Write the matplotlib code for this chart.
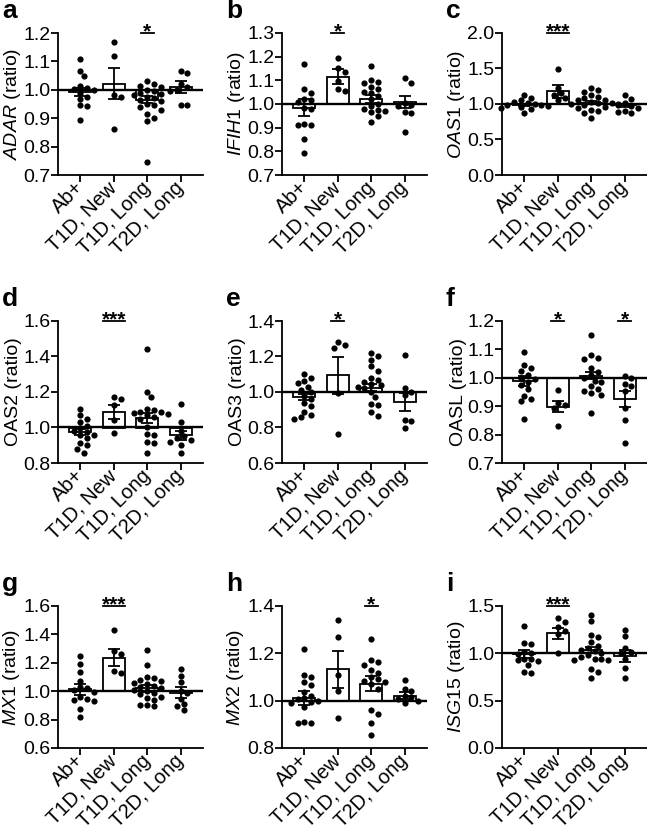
import numpy as np
import matplotlib

matplotlib.use("Agg")
import matplotlib.pyplot as plt
import matplotlib.transforms as mtransforms

plt.rcParams.update({
    "font.family": ["Liberation Sans", "DejaVu Sans"],
    "mathtext.fontset": "custom",
    "mathtext.rm": "Liberation Sans",
    "mathtext.it": "Liberation Sans:italic",
})

GROUPS = ["Ab+", "T1D, New", "T1D, Long", "T2D, Long"]

# ---- values (ratio) ----
adar_points = [
    [1.107, 1.066, 1.047, 1.012, 1.006, 1.003, 1.0, 0.99, 0.975, 0.968, 0.947, 0.943, 0.892],
    [1.167, 1.119, 0.98, 0.975, 0.863],
    [1.03, 1.02, 1.015, 1.01, 1.0, 0.995, 0.99, 0.985, 0.98, 0.975, 0.97, 0.965, 0.96, 0.95,
     0.945, 0.94, 0.93, 0.915, 0.9, 0.89, 0.747],
    [1.065, 1.06, 1.02, 1.01, 1.0, 0.995, 0.945, 0.945],
]
adar_mean = [0.993, 1.022, 0.965, 1.01]
adar_sem = [0.015, 0.056, 0.013, 0.02]

ifih1_points = [
    [1.167, 1.062, 1.048, 1.02, 1.015, 1.01, 0.985, 0.98, 0.915, 0.912, 0.91, 0.85, 0.792],
    [1.195, 1.15, 1.135, 1.097, 1.065, 1.055],
    [1.162, 1.1, 1.095, 1.09, 1.07, 1.065, 1.05, 1.045, 1.035, 1.02, 1.0, 0.99, 0.98, 0.975,
     0.97, 0.965, 0.95, 0.925],
    [1.11, 1.09, 1.005, 0.995, 0.99, 0.965, 0.96, 0.88],
]
ifih1_mean = [0.985, 1.115, 1.022, 1.008]
ifih1_sem = [0.035, 0.031, 0.018, 0.027]

oas1_points = [
    [1.12, 1.08, 1.05, 1.03, 1.01, 1.0, 0.99, 0.98, 0.97, 0.96, 0.95, 0.93, 0.87],
    [1.49, 1.22, 1.15, 1.12, 1.08, 1.05],
    [1.22, 1.2, 1.17, 1.12, 1.1, 1.08, 1.06, 1.05, 1.03, 1.02, 1.01, 1.0, 0.99, 0.98, 0.96,
     0.95, 0.92, 0.9, 0.88, 0.8],
    [1.12, 1.07, 1.02, 1.0, 0.97, 0.95, 0.9, 0.89, 0.88],
]
oas1_mean = [0.99, 1.18, 1.02, 0.98]
oas1_sem = [0.016, 0.09, 0.025, 0.025]

oas2_points = [
    [1.105, 1.07, 1.05, 1.03, 1.01, 0.995, 0.98, 0.975, 0.96, 0.955, 0.94, 0.91, 0.9, 0.88, 0.855],
    [1.17, 1.16, 1.125, 1.04, 0.97],
    [1.44, 1.2, 1.17, 1.105, 1.1, 1.09, 1.085, 1.08, 1.075, 1.07, 1.06, 1.05, 1.0, 0.965,
     0.96, 0.92, 0.915, 0.855],
    [1.13, 1.03, 0.98, 0.95, 0.94, 0.93, 0.92, 0.9, 0.855],
]
oas2_mean = [0.976, 1.088, 1.054, 0.957]
oas2_sem = [0.018, 0.041, 0.03, 0.025]

oas3_points = [
    [1.1, 1.08, 1.06, 1.05, 1.03, 1.01, 1.0, 0.98, 0.96, 0.94, 0.92, 0.89, 0.87, 0.86, 0.85],
    [1.28, 1.265, 1.25, 0.995, 0.765],
    [1.22, 1.2, 1.18, 1.145, 1.12, 1.08, 1.07, 1.055, 1.045, 1.04, 1.03, 1.02, 1.0, 0.97,
     0.93, 0.925, 0.885, 0.865],
    [1.21, 1.02, 1.0, 0.985, 0.84, 0.835, 0.795],
]
oas3_mean = [0.972, 1.093, 1.024, 0.944]
oas3_sem = [0.018, 0.102, 0.021, 0.052]

oasl_points = [
    [1.09, 1.045, 1.035, 1.025, 1.01, 1.0, 0.995, 0.985, 0.975, 0.96, 0.935, 0.925, 0.918, 0.855],
    [0.957, 0.913, 0.905, 0.895, 0.83],
    [1.152, 1.08, 1.07, 1.065, 1.035, 1.02, 1.01, 1.0, 0.99, 0.985, 0.97, 0.96, 0.955, 0.945,
     0.94, 0.875],
    [1.005, 1.0, 0.978, 0.97, 0.955, 0.895, 0.85, 0.772],
]
oasl_mean = [0.988, 0.898, 1.008, 0.926]
oasl_sem = [0.017, 0.019, 0.013, 0.028]

mx1_points = [
    [1.25, 1.195, 1.135, 1.075, 1.03, 1.02, 1.01, 0.995, 0.96, 0.945, 0.94, 0.93, 0.875, 0.815],
    [1.43, 1.28, 1.26, 1.14, 1.13],
    [1.29, 1.185, 1.1, 1.09, 1.08, 1.07, 1.06, 1.05, 1.04, 1.03, 1.02, 1.01, 1.0, 0.99, 0.98,
     0.96, 0.95, 0.94, 0.9, 0.9, 0.895],
    [1.158, 1.11, 1.065, 1.0, 0.99, 0.945, 0.91, 0.895, 0.865],
]
mx1_mean = [1.012, 1.234, 1.021, 0.99]
mx1_sem = [0.04, 0.06, 0.025, 0.04]

mx2_points = [
    [1.22, 1.11, 1.1, 1.08, 1.065, 1.035, 1.02, 1.01, 1.005, 1.0, 0.995, 0.99, 0.975, 0.91,
     0.905, 0.905],
    [1.34, 1.27, 1.11, 1.04, 0.925],
    [1.26, 1.17, 1.165, 1.15, 1.13, 1.115, 1.1, 1.09, 1.085, 1.08, 1.07, 1.05, 0.96, 0.945,
     0.905, 0.855],
    [1.088, 1.05, 1.04, 1.02, 1.015, 1.005, 1.0, 0.99],
]
mx2_mean = [1.01, 1.132, 1.071, 1.021]
mx2_sem = [0.03, 0.078, 0.032, 0.014]

isg15_points = [
    [1.285, 1.105, 1.1, 1.01, 1.0, 0.995, 0.94, 0.935, 0.93, 0.92, 0.88, 0.8, 0.79],
    [1.37, 1.335, 1.275, 1.24, 1.205, 1.005],
    [1.41, 1.345, 1.195, 1.17, 1.12, 1.08, 1.06, 1.04, 1.02, 1.0, 0.98, 0.96, 0.94, 0.935,
     0.93, 0.93, 0.83, 0.8, 0.74],
    [1.25, 1.18, 1.06, 1.015, 1.0, 0.935, 0.845, 0.74],
]
isg15_mean = [0.99, 1.21, 1.035, 0.97]
isg15_sem = [0.04, 0.062, 0.035, 0.06]

# significance marks: group index -> stars
adar_sig = {2: "*"}
ifih1_sig = {1: "*"}
oas1_sig = {1: "***"}
oas2_sig = {1: "***"}
oas3_sig = {1: "*"}
oasl_sig = {1: "*", 3: "*"}
mx1_sig = {1: "***"}
mx2_sig = {2: "*"}
isg15_sig = {1: "***"}

# letter, ylabel, points, mean, sem, sig, ylim, ytick step
PANELS = [
    ("a", r"$\it{ADAR}$ (ratio)", adar_points, adar_mean, adar_sem, adar_sig, (0.7, 1.2), 0.1),
    ("b", r"$\it{IFIH1}$ (ratio)", ifih1_points, ifih1_mean, ifih1_sem, ifih1_sig, (0.7, 1.3), 0.1),
    ("c", r"$\it{OAS1}$ (ratio)", oas1_points, oas1_mean, oas1_sem, oas1_sig, (0.0, 2.0), 0.5),
    ("d", "OAS2 (ratio)", oas2_points, oas2_mean, oas2_sem, oas2_sig, (0.8, 1.6), 0.2),
    ("e", "OAS3 (ratio)", oas3_points, oas3_mean, oas3_sem, oas3_sig, (0.6, 1.4), 0.2),
    ("f", "OASL (ratio)", oasl_points, oasl_mean, oasl_sem, oasl_sig, (0.7, 1.2), 0.1),
    ("g", r"$\it{MX1}$ (ratio)", mx1_points, mx1_mean, mx1_sem, mx1_sig, (0.6, 1.6), 0.2),
    ("h", r"$\it{MX2}$ (ratio)", mx2_points, mx2_mean, mx2_sem, mx2_sig, (0.8, 1.4), 0.2),
    ("i", r"$\it{ISG15}$ (ratio)", isg15_points, isg15_mean, isg15_sem, isg15_sig, (0.0, 1.5), 0.5),
]

W, H = 647, 831
COL_LEFT = [58, 282, 502]
ROW_TOP = [33, 321, 606]
AX_W, AX_H = 145, 142
XLIM = (-0.67, 3.67)
DOT_PX = 6.2
LW = 1.3
FS = 14


def swarm_offsets(vals, ypx_per_unit, xpx_per_unit, diam=DOT_PX):
    vals = np.asarray(vals, dtype=float)
    order = np.argsort(vals)[::-1]
    placed = []
    offs = np.zeros(len(vals))
    steps = [0.0]
    for j in range(1, 12):
        steps += [j * diam * 0.55, -j * diam * 0.55]
    for i in order:
        y = vals[i] * ypx_per_unit
        for s in steps:
            if all((s - px) ** 2 + (y - py) ** 2 >= (diam * 0.95) ** 2 for px, py in placed):
                break
        placed.append((s, y))
        offs[i] = s / xpx_per_unit
    return offs


fig = plt.figure(figsize=(W / 100, H / 100), dpi=100)
label_shift = mtransforms.ScaledTranslation(7 / 100, 3 / 100, fig.dpi_scale_trans)

for k, (letter, ylabel, points, means, sems, sig, ylim, step) in enumerate(PANELS):
    r, c = divmod(k, 3)
    left, top = COL_LEFT[c], ROW_TOP[r]
    ax = fig.add_axes([left / W, 1 - (top + AX_H) / H, AX_W / W, AX_H / H])

    x = np.arange(len(GROUPS))
    means = np.asarray(means)
    ax.bar(x, means - 1.0, bottom=1.0, width=0.66, color="white", edgecolor="black",
           linewidth=LW, zorder=2)
    ax.axhline(1.0, color="black", linewidth=1.7, zorder=2.5)
    ax.errorbar(x, means, yerr=sems, fmt="none", ecolor="black", elinewidth=LW,
                capsize=4.5, capthick=LW, zorder=3)

    ypx = AX_H / (ylim[1] - ylim[0])
    xpx = AX_W / (XLIM[1] - XLIM[0])
    for gi, vals in enumerate(points):
        offs = swarm_offsets(vals, ypx, xpx)
        ax.scatter(gi + offs, vals, s=20, color="black", linewidths=0, zorder=4, clip_on=False)

    for gi, stars in sig.items():
        w = 0.4 if len(stars) == 1 else 0.66
        ax.plot([gi - w / 2, gi + w / 2], [1.0, 1.0], transform=ax.get_xaxis_transform(),
                color="black", linewidth=LW, clip_on=False)
        ax.annotate(stars, xy=(gi, 1.0), xycoords=("data", "axes fraction"),
                    xytext=(0, -3.0), textcoords="offset points", ha="center", va="baseline",
                    fontsize=15, fontweight="bold", annotation_clip=False)

    ax.set_xlim(*XLIM)
    ax.set_ylim(*ylim)
    ax.set_yticks(np.round(np.arange(ylim[0], ylim[1] + step / 2, step), 2))
    ax.yaxis.set_major_formatter(matplotlib.ticker.FormatStrFormatter("%.1f"))
    ax.set_xticks(x)
    ax.set_xticklabels(GROUPS, rotation=45, ha="right", va="center", rotation_mode="anchor",
                       fontsize=14.5)
    for lab in ax.get_xticklabels():
        lab.set_transform(lab.get_transform() + label_shift)
    ax.tick_params(length=5, width=LW)
    ax.tick_params(axis="y", labelsize=FS, pad=0.5)
    ax.tick_params(axis="x", pad=2)
    for side in ("top", "right"):
        ax.spines[side].set_visible(False)
    for side in ("left", "bottom"):
        ax.spines[side].set_linewidth(LW)
    ax.set_ylabel(ylabel, fontsize=FS, labelpad=0.5)

    fig.text((left - 56) / W, 1 - (top - 15) / H, letter, fontsize=19, fontweight="bold",
             va="baseline", ha="left")

fig.savefig("out.png", dpi=100)
